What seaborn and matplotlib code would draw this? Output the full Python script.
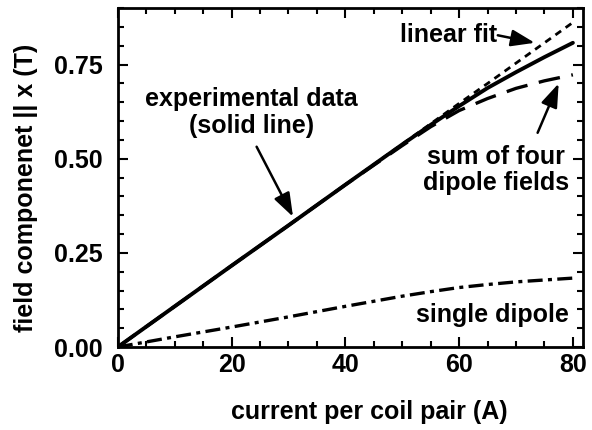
import numpy as np
import pandas as pd
import matplotlib
matplotlib.use("Agg")
import matplotlib.pyplot as plt
import seaborn as sns
from matplotlib.ticker import MultipleLocator, FormatStrFormatter

# Data
current = [0, 10, 20, 30, 40, 50, 55, 60, 65, 70, 75, 80]
linear_fit = [0, 0.108, 0.216, 0.323, 0.431, 0.539, 0.593, 0.647, 0.700, 0.754, 0.808, 0.862]
experimental = [0, 0.108, 0.216, 0.323, 0.431, 0.538, 0.590, 0.640, 0.688, 0.730, 0.770, 0.808]
four_dipoles = [0, 0.108, 0.216, 0.323, 0.431, 0.535, 0.585, 0.628, 0.660, 0.687, 0.707, 0.723]
single_dipole = [0, 0.027, 0.053, 0.080, 0.108, 0.135, 0.147, 0.158, 0.166, 0.173, 0.178, 0.183]

df = pd.DataFrame({
    "current": current,
    "linear": linear_fit,
    "exp": experimental,
    "four": four_dipoles,
    "single": single_dipole,
})

sns.set_style("ticks")
plt.rcParams["font.family"] = ["Liberation Sans", "DejaVu Sans"]
plt.rcParams["font.weight"] = "bold"
for key in ["text.color", "axes.labelcolor", "xtick.color", "ytick.color", "axes.edgecolor"]:
    plt.rcParams[key] = "black"

fig = plt.figure(figsize=(5.92, 4.30), dpi=100)
ax = fig.add_axes([0.199, 0.193, 0.786, 0.788])

sns.lineplot(data=df, x="current", y="linear", ax=ax, color="black", lw=2.0,
             linestyle=(0, (2.5, 2.0)))
sns.lineplot(data=df, x="current", y="four", ax=ax, color="black", lw=2.4,
             linestyle=(0, (6.5, 3.5)))
sns.lineplot(data=df, x="current", y="exp", ax=ax, color="black", lw=2.8)
sns.lineplot(data=df, x="current", y="single", ax=ax, color="black", lw=2.4,
             linestyle=(0, (4.5, 1.6, 1.2, 1.6)))

ax.set_xlim(0, 81.8)
ax.set_ylim(0, 0.9)
ax.xaxis.set_major_locator(MultipleLocator(20))
ax.xaxis.set_minor_locator(MultipleLocator(5))
ax.yaxis.set_major_locator(MultipleLocator(0.25))
ax.yaxis.set_minor_locator(MultipleLocator(0.05))
ax.yaxis.set_major_formatter(FormatStrFormatter("%.2f"))
ax.tick_params(which="both", direction="in", top=True, right=True, width=1.5, color="black")
ax.tick_params(which="major", length=7, labelsize=18, labelcolor="black")
ax.tick_params(which="minor", length=4)
ax.tick_params(axis="x", which="major", pad=4)
ax.tick_params(axis="y", which="major", pad=11)
for lab in ax.get_xticklabels() + ax.get_yticklabels():
    lab.set_fontweight("bold")
for s in ax.spines.values():
    s.set_linewidth(2)
    s.set_color("black")

ax.set_xlabel("current per coil pair (A)", fontsize=18, fontweight="bold", va="top", color="black")
ax.xaxis.set_label_coords(0.54, -0.155)
ax.set_ylabel("field componenet || x (T)", fontsize=18, fontweight="bold", color="black")
ax.yaxis.set_label_coords(-0.172, 0.469)

fs = 18
arrow = dict(arrowstyle="-|>,head_length=0.9,head_width=0.32", color="black", lw=1.8,
             shrinkA=0, shrinkB=0, mutation_scale=16)
ax.annotate("", xy=(30.8, 0.346), xytext=(24.4, 0.532), arrowprops=arrow)
ax.annotate("", xy=(73.3, 0.808), xytext=(66.8, 0.828), arrowprops=arrow)
ax.annotate("", xy=(77.5, 0.70), xytext=(73.8, 0.569), arrowprops=arrow)

ax.text(23.5, 0.623, "experimental data\n(solid line)", ha="center", va="center",
        fontsize=fs, fontweight="bold", linespacing=1.15, color="black")
ax.text(66.6, 0.83, "linear fit", ha="right", va="center", fontsize=fs, fontweight="bold",
        color="black")
ax.text(66.5, 0.47, "sum of four\ndipole fields", ha="center", va="center",
        fontsize=fs, fontweight="bold", linespacing=1.15, color="black")
ax.text(65.9, 0.085, "single dipole", ha="center", va="center", fontsize=fs, fontweight="bold",
        color="black")

fig.savefig("out.png", dpi=100)
